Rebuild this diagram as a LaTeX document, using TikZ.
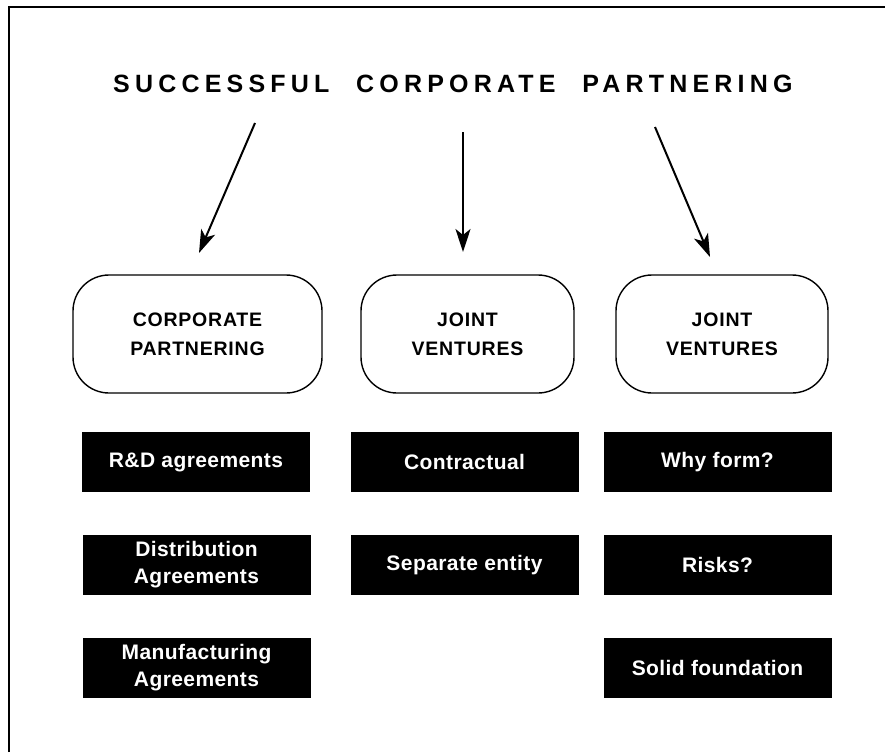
\documentclass[tikz,border=0pt]{standalone}
\usepackage{fontspec}
\setmainfont{Liberation Sans}
\newfontfamily\titlefont[LetterSpace=20.8,WordSpace=2.2]{Liberation Sans}
\newfontfamily\headfont[LetterSpace=4]{Liberation Sans}
\newfontfamily\itemfont[LetterSpace=2]{Liberation Sans}
\usetikzlibrary{arrows.meta}
\begin{document}
\begin{tikzpicture}[x=1pt,y=-1pt,
  roundbox/.style={draw, line width=1.4pt, rounded corners=36pt, minimum height=118pt,
    inner sep=0pt, align=center, font=\headfont\bfseries\fontsize{19.5}{29}\selectfont},
  blackbox/.style={fill=black, text=white, minimum width=228pt, minimum height=60pt,
    inner sep=0pt, align=center, font=\itemfont\bfseries\fontsize{21}{27}\selectfont},
  arr/.style={line width=2pt, -{Stealth[length=23pt,width=15pt,inset=6pt]}}]
\useasboundingbox (0,0) rectangle (885,752);
% frame
\draw[line width=2pt] (8.5,752) -- (8.5,7) -- (885,7);
% title
\node[anchor=base west, inner sep=0pt, font=\titlefont\bfseries\fontsize{25}{30}\selectfont]
  (title) at (113,92) {SUCCESSFUL CORPORATE PARTNERING};
% arrows
\coordinate (a1s) at (255,123); \coordinate (a1e) at (199,253);
\coordinate (a2s) at (463,132); \coordinate (a2e) at (463,252);
\coordinate (a3s) at (655,127); \coordinate (a3e) at (710,257);
\draw[arr] (a1s) -- (a1e);
\draw[arr] (a2s) -- (a2e);
\draw[arr] (a3s) -- (a3e);
% rounded boxes
\node[roundbox, minimum width=249pt] (cp) at (197.5,334) {CORPORATE\\PARTNERING};
\node[roundbox, minimum width=213pt] (jv1) at (467.5,334) {JOINT\\VENTURES};
\node[roundbox, minimum width=212pt] (jv2) at (722,334) {JOINT\\VENTURES};
% black boxes
\node[blackbox] (rd) at (196,462) {R\&D agreements};
\node[blackbox] (dist) at (196.5,565) {Distribution\\Agreements};
\node[blackbox] (manu) at (196.5,668) {Manufacturing\\Agreements};
\node[blackbox] (contr) at (464.5,462) {Contractual};
\node[blackbox] (sep) at (464.5,565) {Separate entity};
\node[blackbox] (why) at (717.5,462) {Why form?};
\node[blackbox] (risk) at (717.5,565) {Risks?};
\node[blackbox] (solid) at (717.5,668) {Solid foundation};
\end{tikzpicture}
\end{document}
